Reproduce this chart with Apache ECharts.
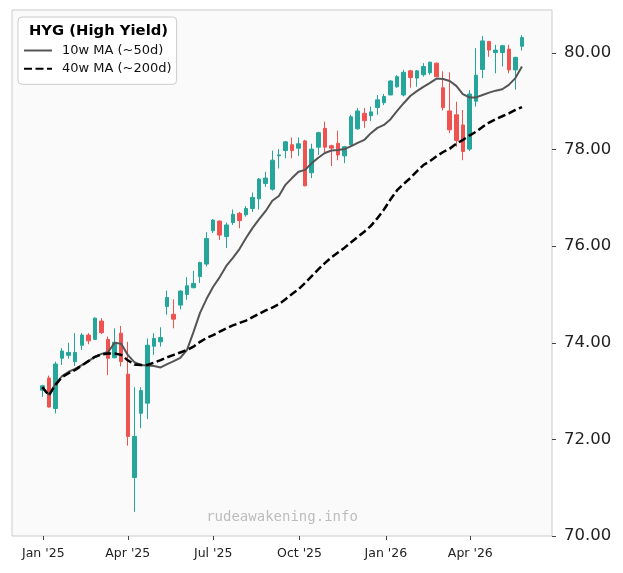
<!DOCTYPE html>
<html><head><meta charset="utf-8">
<script src="https://cdn.jsdelivr.net/npm/echarts@6/dist/echarts.min.js"></script>
<style>html,body{margin:0;padding:0;background:#fff}#c{width:623px;height:573px}</style>
</head><body><div id="c"></div>
<script>
const dates = ['2024-12-31','2025-01-07','2025-01-14','2025-01-21','2025-01-28','2025-02-04','2025-02-11','2025-02-18','2025-02-25','2025-03-04',
'2025-03-11','2025-03-18','2025-03-25','2025-04-01','2025-04-08','2025-04-15','2025-04-22','2025-04-29','2025-05-06','2025-05-13',
'2025-05-20','2025-05-27','2025-06-03','2025-06-10','2025-06-17','2025-06-24','2025-07-01','2025-07-08','2025-07-15','2025-07-22',
'2025-07-29','2025-08-05','2025-08-12','2025-08-19','2025-08-26','2025-09-02','2025-09-09','2025-09-16','2025-09-23','2025-09-30',
'2025-10-07','2025-10-14','2025-10-21','2025-10-28','2025-11-04','2025-11-11','2025-11-18','2025-11-25','2025-12-02','2025-12-09',
'2025-12-16','2025-12-23','2025-12-30','2026-01-06','2026-01-13','2026-01-20','2026-01-27','2026-02-03','2026-02-10','2026-02-17',
'2026-02-24','2026-03-03','2026-03-10','2026-03-17','2026-03-24','2026-03-31','2026-04-07','2026-04-14','2026-04-21','2026-04-28',
'2026-05-05','2026-05-12','2026-05-19','2026-05-26'];
const opens = [73.02,73.27,72.64,73.68,73.74,73.61,73.95,74.16,74.07,74.45,
74.07,73.69,74.20,73.35,71.21,72.54,72.75,73.93,74.02,74.75,
74.59,74.78,75.00,75.14,75.37,75.63,76.32,76.52,76.20,76.49,
76.68,76.65,76.78,76.98,77.30,77.18,77.87,77.98,78.10,78.03,
78.18,77.52,78.05,78.44,78.08,78.13,77.87,78.10,78.43,78.75,
78.70,78.87,78.97,79.13,79.30,79.13,79.63,79.48,79.55,79.59,
79.79,79.28,78.80,78.72,78.51,78.01,79.00,79.66,80.24,80.01,
80.01,80.08,79.65,80.14];
const closes = [73.11,72.67,73.56,73.83,73.80,73.80,74.16,74.04,74.51,74.21,
73.68,74.01,73.61,72.06,72.06,73.01,73.95,74.09,74.11,74.94,
74.49,75.07,75.18,75.23,75.66,76.16,76.54,76.23,76.44,76.66,
76.53,76.78,77.01,77.39,77.41,77.78,77.89,78.16,77.98,78.12,
77.25,78.01,78.35,78.05,78.03,77.89,78.06,78.68,78.80,78.60,
78.78,79.03,79.10,79.42,79.51,79.60,79.49,79.63,79.72,79.81,
79.51,78.87,78.41,78.19,77.96,79.15,79.54,80.25,80.06,80.06,
80.15,79.65,79.91,80.32];
const highs = [73.13,73.32,73.61,73.89,74.00,74.20,74.20,74.20,74.53,74.51,
74.13,74.30,74.35,74.02,73.08,73.08,74.09,74.20,74.32,75.08,
74.90,75.09,75.36,75.49,75.68,76.29,76.56,76.53,76.49,76.76,
76.71,76.83,77.11,77.41,77.54,77.98,78.01,78.18,78.25,78.25,
78.20,78.12,78.37,78.58,78.10,78.39,78.07,78.72,78.86,78.86,
78.89,79.13,79.15,79.44,79.54,79.65,79.65,79.65,79.79,79.82,
79.80,79.62,79.60,78.99,78.82,79.23,80.10,80.35,80.24,80.17,
80.17,80.17,79.92,80.37];
const lows = [72.88,72.66,72.54,73.54,73.67,73.52,73.85,73.97,74.06,74.18,
73.33,73.68,73.51,71.87,70.50,72.23,72.42,73.75,73.92,74.58,
74.30,74.69,74.89,75.13,75.24,75.58,76.27,76.13,75.96,76.44,
76.37,76.61,76.71,76.76,77.23,77.15,77.61,77.82,77.82,77.87,
77.24,77.41,77.89,77.92,77.66,77.78,77.72,78.08,78.41,78.45,
78.59,78.72,78.92,79.13,79.28,79.10,79.28,79.30,79.51,79.55,
79.50,78.81,78.34,78.06,77.78,77.97,78.89,79.48,79.92,79.58,
79.72,79.58,79.24,80.05];
const ma10 = [73.08,72.92,73.15,73.31,73.40,73.46,73.54,73.62,73.71,73.77,
73.81,74.00,73.98,73.75,73.60,73.54,73.53,73.52,73.49,73.56,
73.62,73.69,73.85,74.22,74.62,74.91,75.16,75.36,75.59,75.76,
75.94,76.17,76.38,76.56,76.73,76.94,77.04,77.27,77.41,77.54,
77.58,77.72,77.83,77.93,77.98,77.99,78.01,78.07,78.14,78.20,
78.34,78.45,78.51,78.63,78.80,78.96,79.11,79.21,79.30,79.38,
79.47,79.46,79.42,79.32,79.15,79.08,79.08,79.13,79.18,79.22,
79.25,79.34,79.48,79.72];
const ma40 = [73.08,72.91,73.13,73.29,73.37,73.44,73.53,73.62,73.71,73.76,
73.78,73.78,73.75,73.64,73.55,73.54,73.54,73.59,73.64,73.70,
73.75,73.80,73.85,73.92,74.02,74.10,74.16,74.23,74.30,74.36,
74.41,74.46,74.53,74.60,74.67,74.73,74.80,74.90,75.01,75.11,
75.24,75.38,75.52,75.65,75.77,75.87,75.97,76.08,76.19,76.30,
76.42,76.58,76.76,76.97,77.16,77.29,77.41,77.55,77.68,77.76,
77.86,77.95,78.02,78.12,78.20,78.29,78.37,78.47,78.56,78.63,
78.69,78.75,78.82,78.88];
const xTickDates = ['2025-01-01','2025-04-01','2025-07-01','2025-10-01','2026-01-01','2026-04-01'];
const yTicks = [70,72,74,76,78,80];
const monthNames = ['Jan','Feb','Mar','Apr','May','Jun','Jul','Aug','Sep','Oct','Nov','Dec'];

function ts(s){const p=s.split('-');return Date.UTC(+p[0],+p[1]-1,+p[2]);}
const candleData = dates.map((d,i)=>[ts(d),opens[i],closes[i],lows[i],highs[i]]);
const ma10Data = dates.map((d,i)=>[ts(d),ma10[i]]);
const ma40Data = dates.map((d,i)=>[ts(d),ma40[i]]);
const xTicks = xTickDates.map(ts);

const FONT = 'DejaVu Sans';
const chart = echarts.init(document.getElementById('c'), null, {renderer:'canvas'});
chart.setOption({
  animation:false,
  backgroundColor:'#ffffff',
  grid:{left:12,right:71,top:10,bottom:37,show:true,backgroundColor:'#fafafa',borderColor:'#cccccc',borderWidth:1},
  xAxis:{
    type:'value',
    min:Date.UTC(2024,10,28,16),
    max:Date.UTC(2026,5,27,0),
    axisLine:{show:false},
    splitLine:{show:false},
    axisTick:{show:true,length:4,lineStyle:{color:'#444'},customValues:xTicks},
    axisLabel:{customValues:xTicks,margin:11,fontFamily:FONT,fontSize:12.5,color:'#222',
      formatter:function(v){const d=new Date(v);return monthNames[d.getUTCMonth()]+" '"+String(d.getUTCFullYear()).slice(2);}}
  },
  yAxis:{
    type:'value',
    position:'right',
    min:70,max:80.89,interval:2,
    axisLine:{show:false},
    splitLine:{show:false},
    axisTick:{show:true,length:4,lineStyle:{color:'#444'},customValues:yTicks},
    axisLabel:{customValues:yTicks,margin:12,fontFamily:FONT,fontSize:16.5,color:'#222',padding:[3,0,0,0],
      formatter:function(v){return Number(v).toFixed(2);}}
  },
  legend:{
    data:['10w MA (~50d)','40w MA (~200d)'],
    orient:'vertical',left:18,top:17,
    backgroundColor:'#ffffff',borderColor:'#cccccc',borderWidth:1,borderRadius:4,
    padding:[27,5,9,5],itemGap:5.3,itemWidth:28,itemHeight:14,
    itemStyle:{color:'rgba(0,0,0,0)',borderColor:'rgba(0,0,0,0)',borderWidth:0},
    textStyle:{fontFamily:FONT,fontSize:13,color:'#111',padding:[0,0,0,5]}
  },
  graphic:[
    {type:'text',z:100,x:98.5,y:31.5,style:{text:'HYG (High Yield)',font:'bold 14.8px "DejaVu Sans"',fill:'#000',textAlign:'center',textVerticalAlign:'middle'}},
    {type:'text',z:1,x:282,y:517,style:{text:'rudeawakening.info',font:'14px "DejaVu Sans Mono"',fill:'#bdbdbd',textAlign:'center',textVerticalAlign:'middle'}}
  ],
  series:[
    {type:'candlestick',name:'HYG',data:candleData,encode:{x:0,y:[1,2,3,4]},barWidth:4,
      itemStyle:{color:'#26a69a',color0:'#ef5350',borderColor:'#26a69a',borderColor0:'#ef5350',borderWidth:1},z:2},
    {type:'line',name:'10w MA (~50d)',data:ma10Data,symbol:'none',showSymbol:false,
      lineStyle:{color:'#555555',width:2},itemStyle:{color:'#555555'},z:3},
    {type:'line',name:'40w MA (~200d)',data:ma40Data,symbol:'none',showSymbol:false,
      lineStyle:{color:'#000000',width:2.5,type:[8,3.5]},itemStyle:{color:'#000000'},z:4}
  ]
});
</script></body></html>
